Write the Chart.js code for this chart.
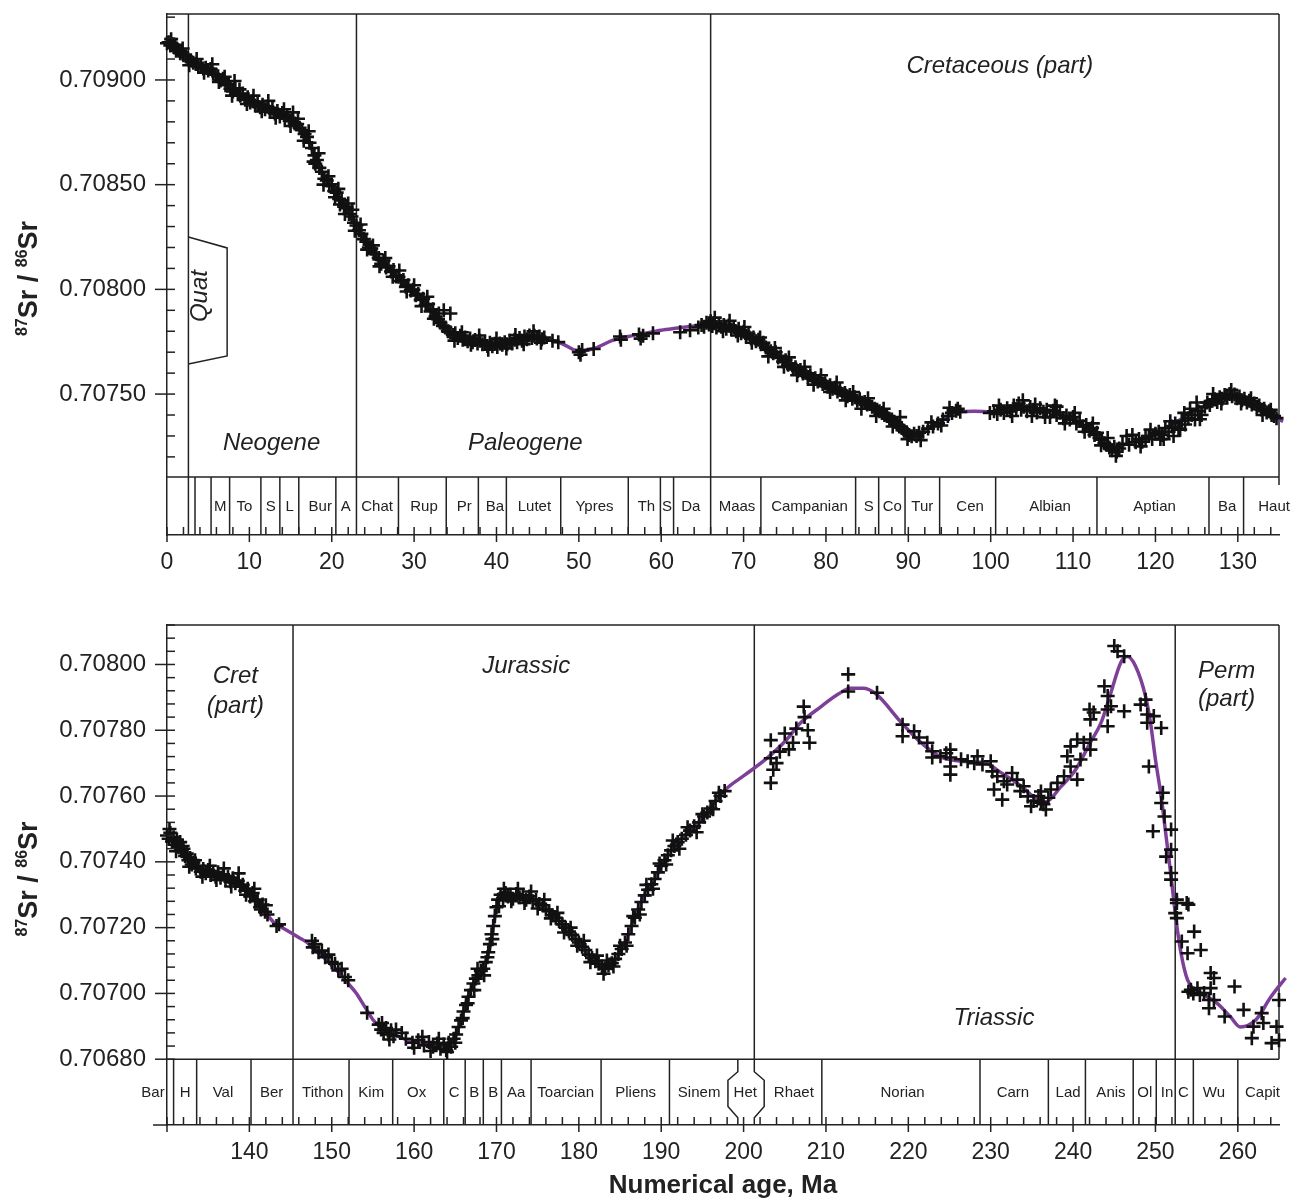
<!DOCTYPE html>
<html>
<head>
<meta charset="utf-8">
<script src="https://cdn.jsdelivr.net/npm/chart.js@4.4.1/dist/chart.umd.min.js"></script>
<style>
  html, body { margin: 0; padding: 0; background: #fff; }
  #wrap { position: relative; width: 1291px; height: 1201px; }
  canvas { position: absolute; left: 0; }
  #topChart { top: 0; }
  #bottomChart { top: 600px; }
</style>
</head>
<body>
<div id="wrap">
  <canvas id="topChart" width="1291" height="600"></canvas>
  <canvas id="bottomChart" width="1291" height="601"></canvas>
</div>
<script>
// ---- axis ticks ----
const topAgeTicks = [0, 10, 20, 30, 40, 50, 60, 70, 80, 90, 100, 110, 120, 130];
const bottomAgeTicks = [140, 150, 160, 170, 180, 190, 200, 210, 220, 230, 240, 250, 260];
const topSrTicks = [0.7075, 0.708, 0.7085, 0.709];
const bottomSrTicks = [0.7068, 0.707, 0.7072, 0.7074, 0.7076, 0.7078, 0.708];

// ---- samples, [age Ma, 87Sr/86Sr] ----
const neogeneSr = [
  [0.0, 0.709175], [0.2, 0.709180], [0.4, 0.709165], [0.6, 0.709172], [0.8, 0.709158], [1.0, 0.709168],
  [1.2, 0.709150], [1.4, 0.709140], [1.6, 0.709128], [1.8, 0.709135], [2.0, 0.709118], [2.3, 0.709112],
  [2.6, 0.709098], [2.9, 0.709094], [3.2, 0.709082], [3.5, 0.709076], [3.8, 0.709062], [4.1, 0.709070],
  [4.4, 0.709055], [4.7, 0.709058], [5.0, 0.709045], [5.3, 0.709052], [5.6, 0.709030], [5.9, 0.709026],
  [6.2, 0.709018], [6.5, 0.708998], [6.8, 0.709006], [7.1, 0.708975], [7.4, 0.708982], [7.7, 0.708958],
  [8.0, 0.708945], [8.2, 0.708995], [8.3, 0.708960], [8.6, 0.708932], [8.9, 0.708925], [9.2, 0.708935],
  [9.5, 0.708905], [9.8, 0.708918], [10.1, 0.708892], [10.4, 0.708898], [10.7, 0.708878], [11.0, 0.708890],
  [11.3, 0.708870], [11.6, 0.708882], [11.9, 0.708860], [12.2, 0.708872], [12.5, 0.708848], [12.8, 0.708862],
  [13.1, 0.708840], [13.4, 0.708852], [13.7, 0.708826], [14.0, 0.708842], [14.3, 0.708818], [14.6, 0.708830],
  [14.9, 0.708805], [15.2, 0.708815], [15.3, 0.708845], [15.5, 0.708792], [15.8, 0.708790], [16.1, 0.708772],
  [16.4, 0.708760], [16.7, 0.708742], [17.0, 0.708728], [17.3, 0.708700], [17.6, 0.708675], [17.9, 0.708640],
  [18.0, 0.708600], [18.2, 0.708618], [18.5, 0.708580], [18.8, 0.708562], [19.1, 0.708528], [19.4, 0.708520],
  [19.7, 0.708495], [20.0, 0.708502], [20.3, 0.708470], [20.6, 0.708462], [20.9, 0.708432], [21.0, 0.708405],
  [21.2, 0.708425], [21.5, 0.708395], [21.8, 0.708388], [22.1, 0.708360], [22.4, 0.708348], [22.5, 0.708380],
  [22.7, 0.708318], [23.0, 0.708305],
  [0.5, 0.709195], [1.1, 0.709140], [1.9, 0.709150], [2.7, 0.709070], [3.6, 0.709100], [4.5, 0.709035],
  [5.5, 0.709075], [6.3, 0.708990], [7.0, 0.709015], [7.9, 0.708925], [8.8, 0.708955], [9.7, 0.708885],
  [10.5, 0.708925], [11.5, 0.708850], [12.3, 0.708900], [13.2, 0.708820], [14.2, 0.708860], [15.0, 0.708780],
  [15.9, 0.708815], [16.6, 0.708710], [17.2, 0.708755], [17.8, 0.708610], [18.4, 0.708650], [19.0, 0.708500],
  [19.6, 0.708540], [20.4, 0.708440], [20.8, 0.708480], [21.6, 0.708360], [22.0, 0.708410], [22.8, 0.708280]
];
const paleogeneSr = [
  [23.3, 0.708282], [23.6, 0.708265], [23.9, 0.708240], [24.2, 0.708228], [24.5, 0.708200], [24.8, 0.708195],
  [25.1, 0.708170], [25.4, 0.708168], [25.7, 0.708150], [26.0, 0.708122], [26.3, 0.708138], [26.6, 0.708105],
  [26.9, 0.708110], [27.2, 0.708085], [27.5, 0.708092], [27.8, 0.708062], [28.1, 0.708060], [28.4, 0.708040],
  [28.7, 0.708045], [29.0, 0.708012], [29.3, 0.708020], [29.6, 0.707995], [29.9, 0.707998], [30.2, 0.707972],
  [30.5, 0.707978], [30.8, 0.707950], [31.1, 0.707955], [31.4, 0.707925], [31.7, 0.707930], [32.0, 0.707895],
  [32.3, 0.707905], [32.6, 0.707870], [32.9, 0.707858], [33.2, 0.707840], [33.5, 0.707825], [33.6, 0.707900],
  [33.8, 0.707818], [34.1, 0.707800], [34.4, 0.707795], [34.4, 0.707885], [34.7, 0.707782], [35.0, 0.707790],
  [35.3, 0.707768], [35.6, 0.707778], [35.9, 0.707760], [36.2, 0.707770], [36.5, 0.707752], [36.8, 0.707765],
  [37.1, 0.707748], [37.4, 0.707758], [37.7, 0.707742], [38.0, 0.707755], [38.3, 0.707738], [38.6, 0.707748],
  [38.9, 0.707730], [39.2, 0.707745], [39.5, 0.707728], [39.8, 0.707740], [40.1, 0.707725], [40.4, 0.707742],
  [40.7, 0.707735], [41.0, 0.707748], [41.3, 0.707738], [41.6, 0.707755], [41.9, 0.707742], [42.2, 0.707760],
  [42.5, 0.707748], [42.8, 0.707768], [43.1, 0.707755], [43.4, 0.707775], [43.7, 0.707762], [44.0, 0.707780],
  [44.3, 0.707768], [44.6, 0.707778], [44.9, 0.707765], [45.2, 0.707775], [45.5, 0.707762], [45.8, 0.707770],
  [46.8, 0.707755], [47.5, 0.707748], [50.0, 0.707700], [50.2, 0.707688], [50.4, 0.707710], [51.8, 0.707715],
  [55.0, 0.707775], [55.1, 0.707760], [57.3, 0.707785], [57.5, 0.707765], [57.8, 0.707778], [59.0, 0.707790],
  [62.3, 0.707795], [63.5, 0.707805], [64.5, 0.707818], [64.9, 0.707830], [65.2, 0.707822], [65.5, 0.707840],
  [65.8, 0.707832],
  [23.5, 0.708310], [24.3, 0.708190], [25.0, 0.708210], [25.8, 0.708110], [26.5, 0.708150], [27.4, 0.708060],
  [28.2, 0.708090], [29.1, 0.707990], [30.0, 0.708020], [30.9, 0.707920], [31.6, 0.707965], [32.4, 0.707860],
  [33.0, 0.707885], [34.9, 0.707755], [35.8, 0.707795], [36.9, 0.707735], [37.9, 0.707780], [39.0, 0.707712],
  [40.0, 0.707765], [41.2, 0.707718], [42.3, 0.707782], [43.3, 0.707738], [44.5, 0.707800], [45.4, 0.707745]
];
const cretaceousSr = [
  [66.0, 0.707848], [66.2, 0.707825], [66.4, 0.707838], [66.7, 0.707818], [67.0, 0.707835], [67.3, 0.707822],
  [67.6, 0.707830], [67.9, 0.707812], [68.2, 0.707828], [68.5, 0.707808], [68.8, 0.707820], [69.1, 0.707800],
  [69.4, 0.707812], [69.7, 0.707790], [70.0, 0.707798], [70.3, 0.707778], [70.6, 0.707788], [70.9, 0.707765],
  [71.2, 0.707770], [71.5, 0.707752], [71.8, 0.707760], [72.1, 0.707738], [72.4, 0.707745], [72.7, 0.707722],
  [73.0, 0.707712], [73.3, 0.707705], [73.6, 0.707695], [73.9, 0.707700], [74.2, 0.707675], [74.5, 0.707680],
  [74.8, 0.707655], [75.1, 0.707662], [75.4, 0.707640], [75.7, 0.707645], [76.0, 0.707620], [76.3, 0.707628],
  [76.6, 0.707610], [76.9, 0.707615], [77.2, 0.707598], [77.5, 0.707602], [77.8, 0.707582], [78.1, 0.707590],
  [78.4, 0.707572], [78.7, 0.707575], [79.0, 0.707560], [79.3, 0.707565], [79.6, 0.707548], [79.9, 0.707552],
  [80.2, 0.707535], [80.5, 0.707542], [80.8, 0.707525], [81.1, 0.707530], [81.4, 0.707512], [81.7, 0.707520],
  [82.0, 0.707500], [82.3, 0.707505], [82.6, 0.707490], [82.9, 0.707495], [83.2, 0.707478], [83.5, 0.707485],
  [83.8, 0.707468], [84.1, 0.707475], [84.4, 0.707458], [84.7, 0.707462], [85.0, 0.707450], [85.3, 0.707452],
  [85.6, 0.707440], [85.9, 0.707430], [86.2, 0.707425], [86.5, 0.707418], [86.8, 0.707410], [87.1, 0.707400],
  [87.4, 0.707395], [87.7, 0.707382], [88.0, 0.707378], [88.3, 0.707368], [88.6, 0.707355], [88.9, 0.707345],
  [89.2, 0.707338], [89.5, 0.707325], [89.8, 0.707318], [90.1, 0.707305], [90.4, 0.707298], [90.7, 0.707310],
  [91.0, 0.707300], [91.3, 0.707315], [91.8, 0.707320], [92.4, 0.707335], [93.0, 0.707345], [93.6, 0.707360],
  [94.2, 0.707378], [94.8, 0.707395], [95.3, 0.707410], [95.8, 0.707420], [96.0, 0.707430], [96.3, 0.707415],
  [99.9, 0.707410], [100.4, 0.707418], [100.8, 0.707405], [101.2, 0.707425], [101.6, 0.707410], [102.0, 0.707432],
  [102.4, 0.707418], [102.8, 0.707445], [103.1, 0.707428], [103.4, 0.707455], [103.7, 0.707425], [104.0, 0.707440],
  [104.4, 0.707418], [104.8, 0.707438], [105.0, 0.707395], [105.2, 0.707425], [105.6, 0.707412], [106.0, 0.707432],
  [106.4, 0.707415], [106.8, 0.707425], [107.2, 0.707390], [107.6, 0.707420], [108.0, 0.707400], [108.0, 0.707440],
  [108.4, 0.707412], [108.8, 0.707385], [109.2, 0.707398], [109.6, 0.707378], [110.0, 0.707390], [110.4, 0.707360],
  [110.8, 0.707372], [111.2, 0.707345], [111.6, 0.707352], [112.0, 0.707325], [112.3, 0.707338], [112.6, 0.707305],
  [112.9, 0.707315], [113.2, 0.707290], [113.5, 0.707282], [113.8, 0.707265], [114.1, 0.707258], [114.4, 0.707245],
  [114.7, 0.707232], [115.0, 0.707248], [115.3, 0.707225], [115.6, 0.707240], [116.0, 0.707262], [116.5, 0.707300],
  [116.8, 0.707258], [117.6, 0.707270], [118.0, 0.707285], [118.4, 0.707272], [118.8, 0.707290], [119.2, 0.707300],
  [119.6, 0.707285], [120.0, 0.707310], [120.4, 0.707320], [120.8, 0.707305], [121.0, 0.707285], [121.2, 0.707338],
  [121.6, 0.707320], [122.0, 0.707345], [122.2, 0.707300], [122.4, 0.707360], [122.8, 0.707335], [123.2, 0.707372],
  [123.5, 0.707410], [123.6, 0.707355], [124.0, 0.707385], [124.4, 0.707400], [124.8, 0.707378], [125.0, 0.707460],
  [125.2, 0.707418], [125.6, 0.707400], [126.0, 0.707440], [126.3, 0.707460], [126.6, 0.707448], [126.9, 0.707468],
  [127.2, 0.707475], [127.5, 0.707462], [127.8, 0.707485], [128.1, 0.707478], [128.4, 0.707495], [128.7, 0.707485],
  [129.0, 0.707500], [129.3, 0.707490], [129.6, 0.707498], [129.9, 0.707480], [130.2, 0.707488], [130.5, 0.707470],
  [130.8, 0.707478], [131.1, 0.707460], [131.4, 0.707468], [131.7, 0.707450], [132.0, 0.707455], [132.3, 0.707438],
  [132.6, 0.707445], [132.9, 0.707425], [133.2, 0.707430], [133.5, 0.707412], [133.8, 0.707418], [134.1, 0.707400],
  [134.4, 0.707395], [134.7, 0.707385],
  [66.5, 0.707865], [67.5, 0.707800], [68.3, 0.707850], [69.3, 0.707780], [70.1, 0.707820], [71.0, 0.707745],
  [72.0, 0.707770], [73.0, 0.707680], [73.8, 0.707720], [74.9, 0.707630], [75.5, 0.707675], [76.5, 0.707590],
  [77.4, 0.707630], [78.5, 0.707545], [79.4, 0.707590], [80.5, 0.707510], [81.3, 0.707555], [82.4, 0.707470],
  [83.3, 0.707510], [84.3, 0.707430], [85.1, 0.707480], [86.1, 0.707395], [87.0, 0.707430], [88.1, 0.707345],
  [89.0, 0.707390], [89.9, 0.707285], [91.5, 0.707280], [92.8, 0.707365], [94.0, 0.707350], [95.0, 0.707435],
  [101.0, 0.707445], [102.6, 0.707395], [103.9, 0.707470], [105.4, 0.707450], [106.6, 0.707390], [107.8, 0.707445],
  [109.0, 0.707360], [110.2, 0.707410], [111.4, 0.707320], [112.4, 0.707360], [113.4, 0.707255], [114.2, 0.707290],
  [115.2, 0.707205], [117.2, 0.707305], [118.2, 0.707250], [119.4, 0.707330], [120.6, 0.707285], [121.8, 0.707370],
  [123.0, 0.707330], [124.2, 0.707430], [125.4, 0.707380], [127.0, 0.707500], [128.0, 0.707455], [129.2, 0.707520],
  [130.4, 0.707455], [131.6, 0.707480], [133.0, 0.707400], [134.0, 0.707425]
];
const earlyCretSr = [
  [130.0, 0.707480], [130.2, 0.707470], [130.4, 0.707488], [130.6, 0.707462], [130.8, 0.707475], [131.0, 0.707452],
  [131.2, 0.707468], [131.4, 0.707445], [131.6, 0.707460], [131.8, 0.707432], [132.0, 0.707440], [132.2, 0.707418],
  [132.4, 0.707425], [132.6, 0.707405], [132.8, 0.707412], [133.0, 0.707392], [133.2, 0.707398], [133.5, 0.707380],
  [133.8, 0.707388], [134.1, 0.707370], [134.4, 0.707378], [134.7, 0.707365], [135.0, 0.707375], [135.3, 0.707360],
  [135.6, 0.707370], [135.9, 0.707355], [136.2, 0.707368], [136.5, 0.707352], [136.8, 0.707362], [137.1, 0.707345],
  [137.4, 0.707355], [137.7, 0.707340], [138.0, 0.707350], [138.3, 0.707335], [138.6, 0.707342], [138.9, 0.707325],
  [139.2, 0.707330], [139.5, 0.707312], [139.8, 0.707318], [140.1, 0.707295], [140.4, 0.707305], [140.7, 0.707280],
  [141.0, 0.707285], [141.3, 0.707262], [141.6, 0.707270], [141.9, 0.707248], [142.2, 0.707240], [143.3, 0.707205],
  [143.6, 0.707210],
  [130.3, 0.707500], [131.1, 0.707432], [131.9, 0.707448], [132.7, 0.707385], [133.4, 0.707405], [134.3, 0.707355],
  [135.2, 0.707388], [136.0, 0.707345], [136.9, 0.707380], [137.8, 0.707325], [138.7, 0.707365], [139.6, 0.707300],
  [140.6, 0.707318], [141.4, 0.707255], [142.0, 0.707268]
];
const jurassicSr = [
  [147.6, 0.707160], [147.7, 0.707140], [148.0, 0.707150], [148.4, 0.707125], [148.8, 0.707130], [149.2, 0.707110],
  [149.6, 0.707118], [150.0, 0.707095], [150.4, 0.707090], [150.8, 0.707070], [151.2, 0.707075], [151.6, 0.707050],
  [152.0, 0.707040], [154.3, 0.706941], [155.7, 0.706905], [156.0, 0.706890], [156.3, 0.706880], [156.6, 0.706895],
  [156.9, 0.706875], [157.2, 0.706888], [157.5, 0.706870], [157.8, 0.706890], [159.0, 0.706862], [159.8, 0.706850],
  [160.5, 0.706858], [161.2, 0.706842], [161.8, 0.706852], [162.3, 0.706838], [162.8, 0.706848], [163.2, 0.706832],
  [163.6, 0.706845], [163.9, 0.706828], [164.2, 0.706850], [164.5, 0.706838], [164.8, 0.706862], [165.1, 0.706875],
  [165.4, 0.706898], [165.7, 0.706918], [166.0, 0.706945], [166.3, 0.706965], [166.6, 0.706990], [166.9, 0.707010],
  [167.2, 0.707030], [167.5, 0.707045], [167.8, 0.707055], [168.1, 0.707068], [168.4, 0.707075], [168.7, 0.707095],
  [169.0, 0.707125], [169.2, 0.707150], [169.4, 0.707180], [169.6, 0.707205], [169.8, 0.707235], [170.0, 0.707262],
  [170.2, 0.707285], [170.5, 0.707300], [170.8, 0.707290], [171.1, 0.707305], [171.4, 0.707295], [171.7, 0.707300],
  [172.0, 0.707288], [172.4, 0.707302], [172.8, 0.707292], [173.2, 0.707298], [173.6, 0.707285], [174.0, 0.707295],
  [174.4, 0.707280], [174.8, 0.707285], [175.2, 0.707272], [175.6, 0.707268], [176.0, 0.707255], [176.4, 0.707250],
  [176.8, 0.707238], [177.2, 0.707230], [177.6, 0.707220], [178.0, 0.707210], [178.4, 0.707200], [178.8, 0.707188],
  [179.2, 0.707178], [179.6, 0.707165], [180.0, 0.707155], [180.4, 0.707142], [180.8, 0.707132], [181.2, 0.707118],
  [181.6, 0.707108], [182.0, 0.707098], [182.4, 0.707090], [182.8, 0.707082], [183.2, 0.707075], [183.6, 0.707085],
  [184.0, 0.707092], [184.4, 0.707105], [184.8, 0.707120], [185.2, 0.707135], [185.6, 0.707155], [186.0, 0.707180],
  [186.4, 0.707205], [186.8, 0.707230], [187.2, 0.707255], [187.6, 0.707278], [188.0, 0.707298], [188.4, 0.707315],
  [188.8, 0.707332], [189.2, 0.707348], [189.6, 0.707368], [190.0, 0.707388], [190.4, 0.707405], [190.8, 0.707420],
  [191.2, 0.707435], [191.6, 0.707448], [192.0, 0.707460], [192.5, 0.707470], [193.0, 0.707482], [193.5, 0.707495],
  [194.0, 0.707508], [194.6, 0.707520], [195.2, 0.707538], [195.6, 0.707550], [196.0, 0.707562], [196.6, 0.707585],
  [197.2, 0.707600], [197.7, 0.707615],
  [156.1, 0.706910], [157.0, 0.706860], [158.5, 0.706880], [160.0, 0.706835], [161.0, 0.706868], [162.0, 0.706825],
  [163.0, 0.706862], [164.0, 0.706822], [165.0, 0.706850], [165.9, 0.706925], [166.5, 0.706970], [167.3, 0.707010],
  [167.7, 0.707075], [168.5, 0.707055], [168.9, 0.707110], [169.5, 0.707165], [170.3, 0.707265], [170.9, 0.707318],
  [171.8, 0.707280], [172.6, 0.707318], [173.4, 0.707275], [174.2, 0.707310], [175.0, 0.707258], [175.8, 0.707285],
  [176.6, 0.707228], [177.4, 0.707245], [178.2, 0.707185], [179.0, 0.707200], [179.8, 0.707145], [180.6, 0.707160],
  [181.4, 0.707095], [182.2, 0.707115], [183.0, 0.707060], [183.4, 0.707100], [184.2, 0.707082], [185.0, 0.707145],
  [185.8, 0.707145], [186.6, 0.707235], [187.4, 0.707240], [188.2, 0.707330], [189.0, 0.707318], [189.8, 0.707395],
  [190.6, 0.707392], [191.4, 0.707465], [192.2, 0.707440], [193.2, 0.707505], [194.3, 0.707490], [195.0, 0.707545],
  [196.3, 0.707560], [197.0, 0.707610]
];
const triassicSr = [
  [203.3, 0.707770], [203.3, 0.707715], [203.3, 0.707640], [203.6, 0.707680], [204.0, 0.707700], [204.4, 0.707735],
  [205.0, 0.707790], [205.5, 0.707742], [206.0, 0.707762], [206.4, 0.707805], [207.3, 0.707872], [207.4, 0.707840],
  [207.8, 0.707800], [208.0, 0.707762], [212.7, 0.707970], [212.7, 0.707918], [216.2, 0.707914], [219.3, 0.707817],
  [219.3, 0.707782], [220.7, 0.707797], [221.3, 0.707778], [222.3, 0.707762], [222.9, 0.707736], [222.9, 0.707717],
  [223.9, 0.707721], [224.6, 0.707730], [225.1, 0.707741], [225.1, 0.707717], [225.1, 0.707690], [225.1, 0.707665],
  [226.4, 0.707712], [227.2, 0.707706], [228.0, 0.707700], [228.4, 0.707721], [229.0, 0.707696], [230.0, 0.707706],
  [230.2, 0.707675], [230.4, 0.707620], [230.8, 0.707660], [231.4, 0.707589], [231.6, 0.707645], [232.0, 0.707635],
  [232.6, 0.707670], [233.2, 0.707650], [233.6, 0.707615], [234.0, 0.707630], [234.5, 0.707599], [234.9, 0.707569],
  [235.2, 0.707585], [235.8, 0.707600], [236.1, 0.707580], [236.1, 0.707614], [236.4, 0.707575], [236.7, 0.707559],
  [237.0, 0.707595], [237.3, 0.707620], [238.1, 0.707640], [238.9, 0.707660], [239.3, 0.707721], [239.7, 0.707751],
  [239.7, 0.707690], [240.5, 0.707650], [240.5, 0.707772], [240.9, 0.707711], [241.3, 0.707762], [242.0, 0.707863],
  [242.1, 0.707741], [242.1, 0.707772], [242.1, 0.707833], [242.5, 0.707854], [243.8, 0.707934], [244.2, 0.707904],
  [244.2, 0.707863], [244.2, 0.707812], [244.6, 0.707873], [245.0, 0.708056], [245.4, 0.708040], [246.2, 0.708025],
  [246.2, 0.707858], [248.2, 0.707878], [248.8, 0.707893], [249.0, 0.707848], [249.0, 0.707823], [249.2, 0.707690],
  [249.7, 0.707493], [249.8, 0.707843], [250.7, 0.707807], [250.7, 0.707579], [250.9, 0.707610], [251.1, 0.707538],
  [251.3, 0.707416], [251.9, 0.707498], [251.9, 0.707437], [251.9, 0.707366], [251.9, 0.707346]
];
const permianSr = [
  [252.4, 0.707244], [252.6, 0.707285], [252.6, 0.707275], [252.6, 0.707229], [253.2, 0.707158], [253.8, 0.707275],
  [253.9, 0.707122], [254.0, 0.707270], [254.0, 0.707005], [254.3, 0.707011], [254.6, 0.707000], [254.7, 0.707188],
  [255.1, 0.707016], [255.4, 0.706995], [255.5, 0.707132], [255.9, 0.707001], [256.5, 0.706980], [256.5, 0.706955],
  [256.7, 0.707062], [256.7, 0.707016], [257.1, 0.707047], [257.1, 0.706980], [258.4, 0.706930], [259.6, 0.707021],
  [260.7, 0.706950], [261.7, 0.706864], [261.9, 0.706899], [262.9, 0.706940], [263.1, 0.706910], [264.1, 0.706849],
  [264.7, 0.706899], [265.0, 0.706858], [265.0, 0.706980]
];

// ---- fitted curves ----
const topCurve = [
  [0, 0.709172], [1, 0.709160], [2, 0.709125], [3, 0.709090], [4, 0.709065], [5, 0.709050], [6, 0.709020],
  [7, 0.708985], [8, 0.708950], [9, 0.708920], [10, 0.708900], [11, 0.708880], [12, 0.708865], [13, 0.708850],
  [14, 0.708830], [15, 0.708808], [16, 0.708775], [17, 0.708720], [18, 0.708630], [19, 0.708540], [20, 0.708490],
  [21, 0.708430], [22, 0.708370], [23, 0.708300], [24, 0.708230], [25, 0.708175], [26, 0.708130], [27, 0.708095],
  [28, 0.708055], [29, 0.708020], [30, 0.707985], [31, 0.707945], [32, 0.707900], [33, 0.707850], [34, 0.707805],
  [35, 0.707780], [36, 0.707765], [38, 0.707750], [40, 0.707735], [42, 0.707750], [44, 0.707770], [46, 0.707765],
  [48, 0.707740], [50, 0.707705], [52, 0.707720], [54, 0.707755], [56, 0.707775], [58, 0.707790], [60, 0.707805],
  [62, 0.707815], [64, 0.707825], [66, 0.707835], [68, 0.707820], [70, 0.707790], [72, 0.707740], [74, 0.707680],
  [76, 0.707625], [78, 0.707580], [80, 0.707540], [82, 0.707500], [84, 0.707460], [86, 0.707420], [88, 0.707375],
  [90, 0.707310], [91, 0.707305], [92, 0.707330], [94, 0.707370], [96, 0.707415], [98, 0.707418], [100, 0.707415],
  [102, 0.707425], [104, 0.707430], [106, 0.707420], [108, 0.707405], [110, 0.707375], [112, 0.707325], [114, 0.707250],
  [115, 0.707240], [116, 0.707255], [118, 0.707280], [120, 0.707315], [122, 0.707355], [124, 0.707400], [126, 0.707440],
  [128, 0.707480], [129, 0.707490], [130, 0.707485], [132, 0.707450], [134, 0.707395], [135.5, 0.707370]
];
const bottomCurve = [
  [130, 0.707480], [131, 0.707455], [132, 0.707420], [133, 0.707390], [134, 0.707375], [136, 0.707365], [138, 0.707350],
  [139, 0.707338], [140, 0.707310], [141, 0.707280], [142, 0.707245], [143, 0.707215], [144, 0.707200], [145, 0.707185],
  [146, 0.707170], [147, 0.707155], [148, 0.707130], [149, 0.707110], [150, 0.707085], [151, 0.707060], [152, 0.707030],
  [153, 0.707000], [154, 0.706960], [155, 0.706920], [156, 0.706895], [157, 0.706880], [158, 0.706870], [159, 0.706860],
  [160, 0.706852], [162, 0.706845], [163, 0.706840], [164, 0.706848], [165, 0.706870], [165.6, 0.706910], [166.2, 0.706965],
  [167.2, 0.707030], [168.4, 0.707075], [169.2, 0.707140], [169.6, 0.707200], [170.1, 0.707270], [170.8, 0.707295],
  [172.3, 0.707295], [174.1, 0.707290], [175.9, 0.707262], [177.8, 0.707215], [179.6, 0.707162], [181.4, 0.707112],
  [183.0, 0.707080], [184.4, 0.707100], [185.7, 0.707160], [186.9, 0.707240], [188.1, 0.707305], [189.3, 0.707350],
  [190.5, 0.707410], [192.3, 0.707465], [194.8, 0.707528], [196.6, 0.707585], [197.8, 0.707620], [200.2, 0.707665],
  [202.7, 0.707712], [205.1, 0.707768], [206.9, 0.707822], [209.4, 0.707872], [211.5, 0.707910], [213.0, 0.707928],
  [214.5, 0.707928], [216.0, 0.707912], [219.1, 0.707825], [221.5, 0.707763], [224.0, 0.707718], [227.0, 0.707705],
  [229.4, 0.707700], [231.2, 0.707672], [233.7, 0.707630], [235.5, 0.707592], [236.7, 0.707583], [238.5, 0.707628],
  [240.3, 0.707680], [242.1, 0.707763], [243.4, 0.707823], [244.6, 0.707915], [245.8, 0.708006], [246.6, 0.708024],
  [247.6, 0.707994], [248.8, 0.707903], [249.4, 0.707823], [250.0, 0.707711], [250.7, 0.707598], [251.3, 0.707476],
  [251.9, 0.707355], [252.5, 0.707224], [253.1, 0.707123], [253.9, 0.707041], [255.5, 0.707002], [257.3, 0.706974],
  [259.1, 0.706929], [260.3, 0.706898], [262.2, 0.706920], [264.0, 0.706989], [265.8, 0.707047]
];

// ---- time scale ----
const topStageBounds = [2.6, 3.4, 5.35, 7.6, 11.4, 13.7, 16.0, 20.5, 23.0, 28.1, 33.9, 37.8, 41.2, 47.8, 56.0, 59.9,
  61.5, 66.0, 72.1, 83.6, 86.4, 89.6, 93.8, 100.6, 112.9, 126.5, 130.7];
const topStageNames = ['M', 'To', 'S', 'L', 'Bur', 'A', 'Chat', 'Rup', 'Pr', 'Ba', 'Lutet', 'Ypres', 'Th', 'S', 'Da',
  'Maas', 'Campanian', 'S', 'Co', 'Tur', 'Cen', 'Albian', 'Aptian', 'Ba', 'Haut'];
const topStageAt = [6.45, 9.4, 12.6, 14.9, 18.6, 21.7, 25.5, 31.2, 36.1, 39.8, 44.6, 51.9, 58.2, 60.7, 63.6,
  69.2, 78.0, 85.2, 88.05, 91.7, 97.5, 107.2, 119.9, 128.7, 134.4];
const topPeriodLines = [2.6, 23.0, 66.0];
const topPeriodNames = ['Neogene', 'Paleogene', 'Cretaceous (part)'];
const topPeriodAge = [12.7, 43.5, 101.1];
const topPeriodSr = [0.707266, 0.707266, 0.709067];

const bottomStageBounds = [130.8, 133.6, 140.2, 145.3, 152.1, 157.4, 163.6, 166.2, 168.4, 170.6, 174.2, 182.7, 191.0,
  209.5, 228.7, 237.0, 241.5, 247.3, 250.1, 252.4, 254.6, 260.0];
const bottomStageNames = ['Bar', 'H', 'Val', 'Ber', 'Tithon', 'Kim', 'Ox', 'C', 'B', 'B', 'Aa', 'Toarcian', 'Pliens',
  'Sinem', 'Het', 'Rhaet', 'Norian', 'Carn', 'Lad', 'Anis', 'Ol', 'In', 'C', 'Wu', 'Capit'];
const bottomStageAt = [128.3, 132.2, 136.8, 142.7, 148.9, 154.8, 160.3, 164.85, 167.3, 169.6, 172.4, 178.4, 186.9,
  194.6, 200.2, 206.1, 219.3, 232.7, 239.4, 244.6, 248.7, 251.4, 253.4, 257.1, 263.0];
const bottomPeriodLines = [145.3, 201.3, 252.4];
const bottomPeriodNames = ['Cret', '(part)', 'Jurassic', 'Perm', '(part)', 'Triassic'];
const bottomPeriodAge = [138.3, 138.3, 173.6, 258.65, 258.65, 230.4];
const bottomPeriodSr = [0.707963, 0.707872, 0.707994, 0.707979, 0.707893, 0.706925];

const INK = '#222222';
const CURVE = '#7e3f98';
const FONT = '"Liberation Sans", Arial, Helvetica, sans-serif';
Chart.defaults.font.family = FONT;

const toXY = arr => arr.map(([a, s]) => ({ x: a, y: s }));

function drawSrTitle(ctx, cx, cy) {
  const parts = [['87', 'bold 16px ' + FONT, -10], ['Sr / ', 'bold 27px ' + FONT, 0],
                 ['86', 'bold 16px ' + FONT, -10], ['Sr', 'bold 27px ' + FONT, 0]];
  ctx.save();
  ctx.translate(cx, cy);
  ctx.rotate(-Math.PI / 2);
  ctx.fillStyle = INK;
  ctx.textBaseline = 'alphabetic';
  ctx.textAlign = 'left';
  let w = 0;
  parts.forEach(p => { ctx.font = p[1]; w += ctx.measureText(p[0]).width; });
  let px = -w / 2;
  parts.forEach(p => { ctx.font = p[1]; ctx.fillText(p[0], px, 9.5 + p[2]); px += ctx.measureText(p[0]).width; });
  ctx.restore();
}

function panelDecor(spec) {
  return {
    id: 'panelDecor',
    beforeDatasetsDraw(chart) {
      const { ctx, chartArea: a } = chart;
      const x = chart.scales.x, y = chart.scales.y;
      const bandY = y.getPixelForValue(spec.bandTop);
      const line = (x1, y1, x2, y2) => { ctx.beginPath(); ctx.moveTo(x1, y1); ctx.lineTo(x2, y2); ctx.stroke(); };
      ctx.save();
      ctx.strokeStyle = INK;
      ctx.lineWidth = 1.5;
      line(a.left, a.top, a.right, a.top);
      line(a.right, a.top, a.right, bandY + spec.rightOver);
      line(a.left, bandY, a.right, bandY);
      spec.bounds.forEach(b => { const px = x.getPixelForValue(b); line(px, bandY, px, a.bottom); });
      spec.periodLines.forEach(b => { const px = x.getPixelForValue(b); line(px, a.top, px, bandY); });

      if (spec.quat) {
        const q1 = x.getPixelForValue(2.6), q2 = x.getPixelForValue(7.3);
        ctx.beginPath();
        ctx.moveTo(q1, y.getPixelForValue(0.708250));
        ctx.lineTo(q2, y.getPixelForValue(0.708198));
        ctx.lineTo(q2, y.getPixelForValue(0.707682));
        ctx.lineTo(q1, y.getPixelForValue(0.707644));
        ctx.stroke();
        ctx.save();
        ctx.translate(x.getPixelForValue(4.0), y.getPixelForValue(0.707968));
        ctx.rotate(-Math.PI / 2);
        ctx.fillStyle = INK;
        ctx.font = 'italic 24px ' + FONT;
        ctx.textAlign = 'center';
        ctx.textBaseline = 'middle';
        ctx.fillText('Quat', 0, 0);
        ctx.restore();
      }
      if (spec.het) {
        const h = a.bottom - bandY;
        const ys = [0, 0.19, 0.32, 0.72, 0.89, 1].map(f => bandY + f * h);
        const sides = [[199.3, 198.1], [201.3, 202.5]];
        sides.forEach(([edge, out]) => {
          const e = x.getPixelForValue(edge), o = x.getPixelForValue(out);
          ctx.beginPath();
          ctx.moveTo(e, ys[0]); ctx.lineTo(e, ys[1]); ctx.lineTo(o, ys[2]);
          ctx.lineTo(o, ys[3]); ctx.lineTo(e, ys[4]); ctx.lineTo(e, ys[5]);
          ctx.stroke();
        });
      }

      ctx.fillStyle = INK;
      ctx.textAlign = 'center';
      ctx.textBaseline = 'middle';
      ctx.font = '15px ' + FONT;
      const bandMid = (bandY + a.bottom) / 2 + 1;
      spec.stageNames.forEach((n, i) => ctx.fillText(n, x.getPixelForValue(spec.stageAt[i]), bandMid));
      ctx.font = 'italic 24px ' + FONT;
      spec.periodNames.forEach((n, i) =>
        ctx.fillText(n, x.getPixelForValue(spec.periodAge[i]), y.getPixelForValue(spec.periodSr[i])));
      ctx.restore();
    },
    afterDraw(chart) {
      const { ctx, chartArea: a } = chart;
      const x = chart.scales.x, y = chart.scales.y;
      const line = (x1, y1, x2, y2) => { ctx.beginPath(); ctx.moveTo(x1, y1); ctx.lineTo(x2, y2); ctx.stroke(); };
      ctx.save();
      ctx.strokeStyle = INK;
      ctx.lineWidth = 1.5;
      spec.yMajor.forEach(v => { const py = y.getPixelForValue(v); line(a.left - 12, py, a.left + 8, py); });
      spec.yMinor.forEach(v => { const py = y.getPixelForValue(v); line(a.left, py, a.left + 8, py); });
      spec.xMajor.forEach(v => { const px = x.getPixelForValue(v); line(px, a.bottom - 8, px, a.bottom + 7); });
      spec.xMinor.forEach(v => { const px = x.getPixelForValue(v); line(px, a.bottom - 8, px, a.bottom); });
      if (spec.axisFrom !== undefined) line(x.getPixelForValue(spec.axisFrom), a.bottom, a.left, a.bottom);
      ctx.restore();
      drawSrTitle(ctx, 27, (a.top + a.bottom) / 2 + 4);
    }
  };
}

function minorAges(from, to) {
  const out = [];
  for (let v = from; v <= to; v += 2) if (v % 10 !== 0) out.push(v);
  return out;
}
function minorSr(fromK, toK, step, major, scale) {
  const out = [];
  for (let k = fromK; k <= toK; k += step) if (k % major !== 0) out.push(k / scale);
  return out;
}

function makeChart(id, opts) {
  const scatterStyle = {
    type: 'scatter', pointStyle: 'cross', pointRadius: 7, pointBorderWidth: 2.6,
    borderColor: '#111', backgroundColor: '#111', clip: false, order: 0
  };
  return new Chart(document.getElementById(id), {
    type: 'scatter',
    data: {
      datasets: [
        Object.assign({ label: 'samples', data: toXY(opts.samples) }, scatterStyle),
        {
          type: 'line', label: 'curve', data: toXY(opts.curve), borderColor: CURVE, borderWidth: 3.5,
          pointRadius: 0, cubicInterpolationMode: 'monotone', fill: false, order: 1,
          clip: { left: 0, right: 8, top: 0, bottom: 0 }
        }
      ]
    },
    options: {
      responsive: false,
      animation: false,
      layout: { padding: { top: opts.padTop, right: 12, left: 0, bottom: 0 } },
      plugins: { legend: { display: false }, tooltip: { enabled: false } },
      scales: {
        x: {
          type: 'linear', min: opts.xMin, max: opts.xMax,
          afterBuildTicks: s => { s.ticks = opts.xTicks.map(v => ({ value: v })); },
          afterFit: s => { s.height = opts.xHeight; s.paddingLeft = 0; s.paddingRight = 0; },
          grid: { drawOnChartArea: false, drawTicks: false },
          border: { display: true, color: INK, width: 1.5 },
          ticks: { color: INK, font: { size: 23 }, padding: 14, maxRotation: 0, autoSkip: false },
          title: opts.xTitle ? {
            display: true, text: opts.xTitle, color: INK,
            font: { size: 26, weight: 'bold' }, padding: { top: 0, bottom: 0 }
          } : { display: false }
        },
        y: {
          type: 'linear', min: opts.yMin, max: opts.yMax,
          afterBuildTicks: s => { s.ticks = opts.yTicks.map(v => ({ value: v })); },
          afterFit: s => { s.width = 167; s.paddingTop = 0; s.paddingBottom = 0; },
          grid: { drawOnChartArea: false, drawTicks: false },
          border: { display: true, color: INK, width: 1.5 },
          ticks: { color: INK, font: { size: 24 }, padding: 21, callback: v => v.toFixed(5) }
        }
      }
    },
    plugins: [panelDecor(opts.decor)]
  });
}

makeChart('topChart', {
  samples: neogeneSr.concat(paleogeneSr, cretaceousSr),
  curve: topCurve,
  xMin: 0, xMax: 135, xTicks: topAgeTicks, xHeight: 65,
  yMin: 0.706827, yMax: 0.709315, yTicks: topSrTicks,
  padTop: 14,
  decor: {
    bandTop: 0.707104, rightOver: 8,
    bounds: topStageBounds, stageNames: topStageNames, stageAt: topStageAt,
    periodLines: topPeriodLines, periodNames: topPeriodNames, periodAge: topPeriodAge, periodSr: topPeriodSr,
    quat: true,
    yMajor: topSrTicks, yMinor: minorSr(7072, 7093, 1, 5, 10000),
    xMajor: topAgeTicks, xMinor: minorAges(2, 134)
  }
});

makeChart('bottomChart', {
  samples: earlyCretSr.concat(jurassicSr, triassicSr, permianSr),
  curve: bottomCurve,
  xMin: 130, xMax: 265, xTicks: bottomAgeTicks, xHeight: 76,
  yMin: 0.7066, yMax: 0.70812, yTicks: bottomSrTicks,
  padTop: 25,
  xTitle: 'Numerical age, Ma',
  decor: {
    bandTop: 0.7068, rightOver: 0,
    bounds: bottomStageBounds, stageNames: bottomStageNames, stageAt: bottomStageAt,
    periodLines: bottomPeriodLines, periodNames: bottomPeriodNames, periodAge: bottomPeriodAge, periodSr: bottomPeriodSr,
    het: true, axisFrom: 128.3,
    yMajor: bottomSrTicks, yMinor: minorSr(70684, 70812, 4, 20, 100000),
    xMajor: [130].concat(bottomAgeTicks), xMinor: minorAges(132, 264)
  }
});
</script>
</body>
</html>
